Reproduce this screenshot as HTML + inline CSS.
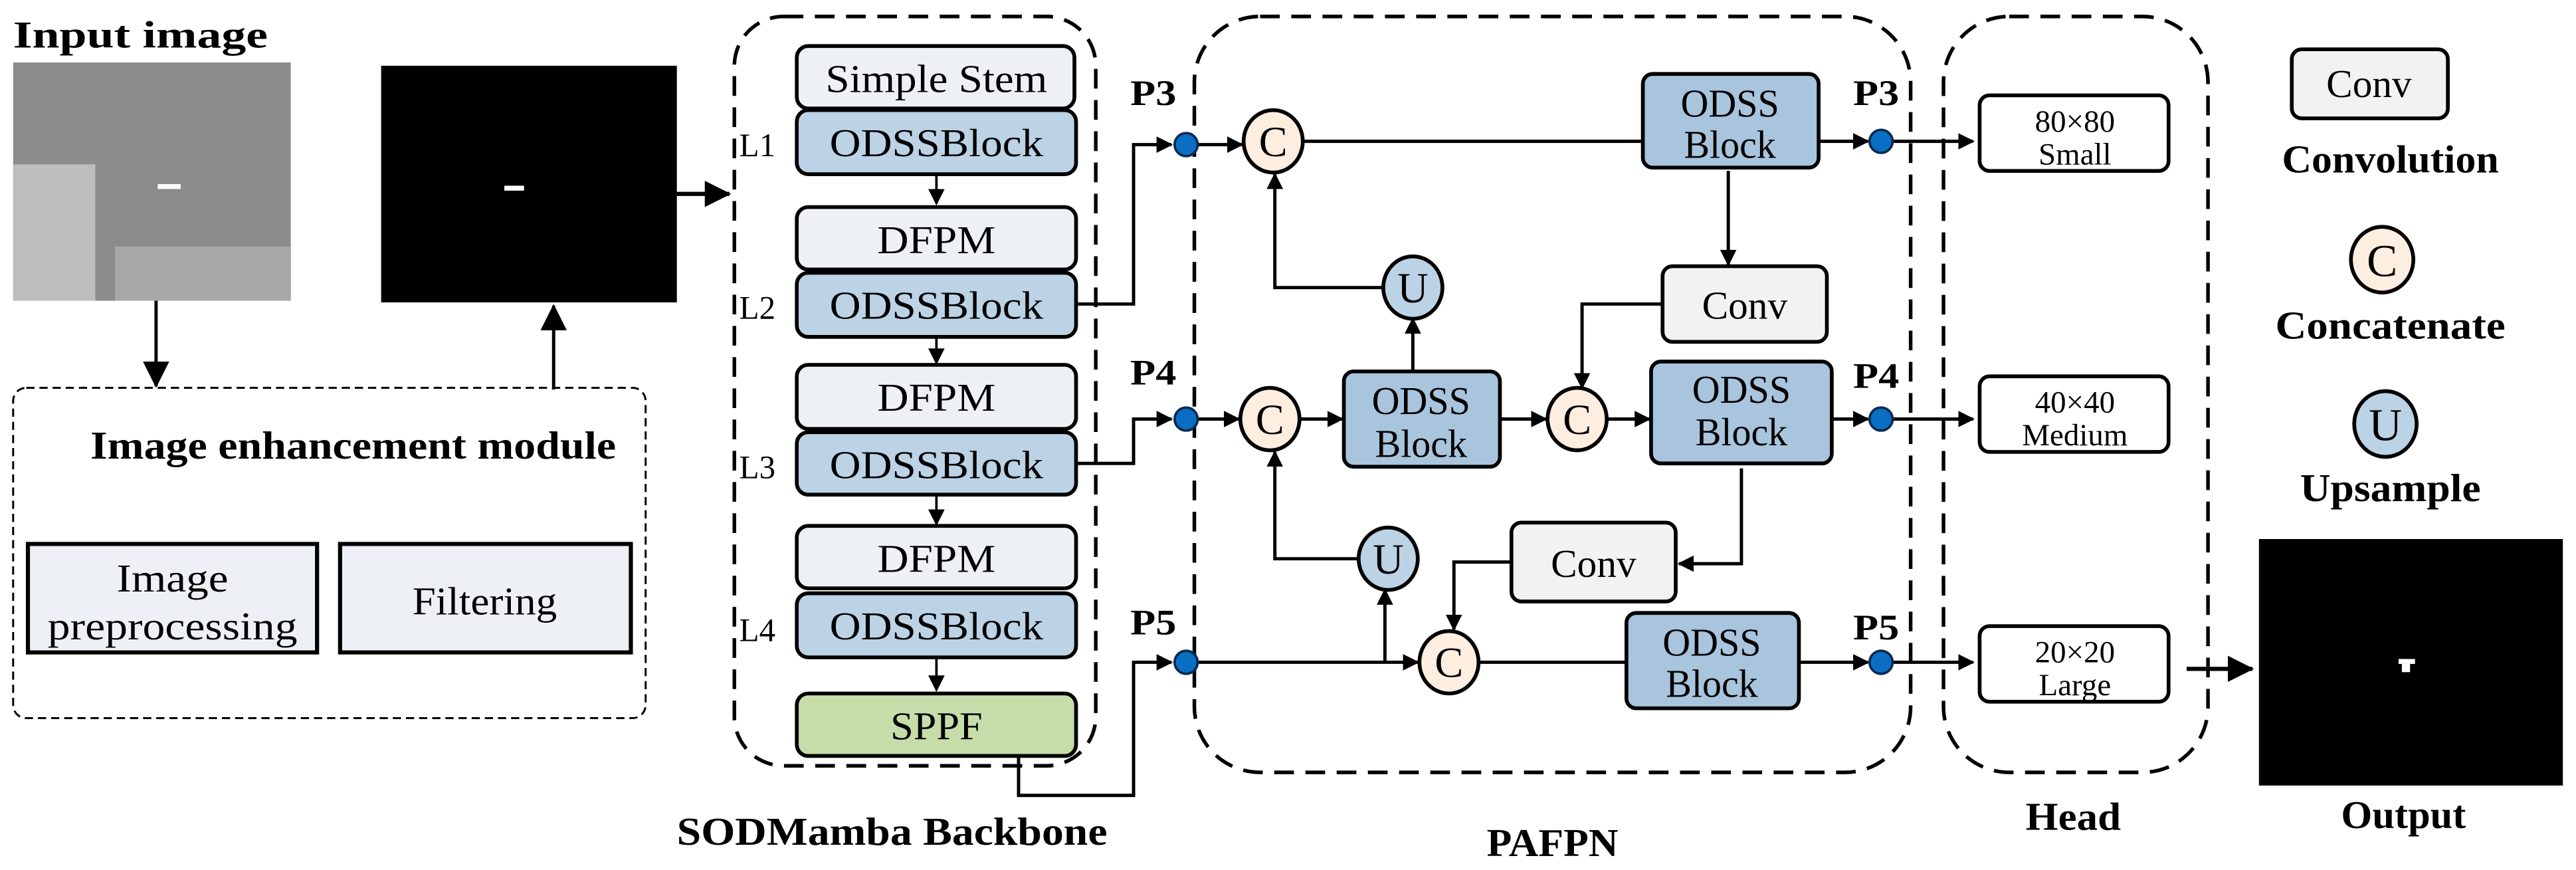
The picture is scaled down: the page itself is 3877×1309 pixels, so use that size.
<!DOCTYPE html>
<html><head><meta charset="utf-8"><style>
html,body{margin:0;padding:0;background:#fff}
svg{display:block}
text{font-family:"Liberation Serif",serif}
</style></head><body>
<svg width="3877" height="1309" viewBox="0 0 1568 529.4" xmlns="http://www.w3.org/2000/svg">
<defs>
<marker id="a" markerWidth="10" markerHeight="10" refX="9" refY="5" orient="auto" markerUnits="userSpaceOnUse"><path d="M0,0 L10,5 L0,10 z" fill="#000"/></marker>
<marker id="A" markerWidth="16" markerHeight="16" refX="15" refY="8" orient="auto" markerUnits="userSpaceOnUse"><path d="M0,0 L16,8 L0,16 z" fill="#000"/></marker>
</defs>
<g fill="none" stroke="#000">
<rect x="8" y="236" width="385" height="201" rx="8" stroke-width="1.2" stroke-dasharray="5,3"/>
<rect x="447" y="10" width="220" height="456" rx="30" stroke-width="2.2" stroke-dasharray="12,7"/>
<rect x="727" y="10" width="436" height="460" rx="40" stroke-width="2.2" stroke-dasharray="12,7"/>
<rect x="1183" y="10" width="161" height="460" rx="40" stroke-width="2.2" stroke-dasharray="12,7"/>
</g>
<text x="8" y="29" font-weight="bold" font-size="23" textLength="155" lengthAdjust="spacingAndGlyphs">Input image</text>
<rect x="8" y="38" width="169" height="145" fill="#8c8c8c"/>
<rect x="8" y="100" width="50" height="83" fill="#bdbdbd"/>
<rect x="70" y="150" width="107" height="33" fill="#a8a8a8"/>
<rect x="232" y="40" width="180" height="144" fill="#000"/>
<rect x="96" y="112" width="14" height="3" fill="#fff"/>
<rect x="307" y="113" width="12" height="3" fill="#fff"/>
<line x1="95" y1="183" x2="95" y2="235" stroke="#000" stroke-width="2" marker-end="url(#A)"/>
<line x1="337" y1="237" x2="337" y2="186" stroke="#000" stroke-width="2" marker-end="url(#A)"/>
<line x1="412" y1="118" x2="444" y2="118" stroke="#000" stroke-width="2.5" marker-end="url(#A)"/>
<text x="215" y="279" text-anchor="middle" font-weight="bold" font-size="24" textLength="320" lengthAdjust="spacingAndGlyphs">Image enhancement module</text>
<rect x="17" y="331" width="176" height="66" fill="#edf1f6" stroke="#000" stroke-width="2.5"/>
<rect x="207" y="331" width="177" height="66" fill="#edf1f6" stroke="#000" stroke-width="2.5"/>
<text x="105" y="360" text-anchor="middle" font-size="24" textLength="68" lengthAdjust="spacingAndGlyphs">Image</text>
<text x="105" y="389" text-anchor="middle" font-size="24" textLength="152" lengthAdjust="spacingAndGlyphs">preprocessing</text>
<text x="295" y="374" text-anchor="middle" font-size="24" textLength="88" lengthAdjust="spacingAndGlyphs">Filtering</text>

<g stroke="#000" stroke-width="2.3">
<rect x="485" y="28" width="169" height="38" rx="7" fill="#edf1f6"/>
<rect x="485" y="67" width="170" height="39" rx="7" fill="#bcd2e5"/>
<rect x="485" y="126" width="170" height="38" rx="7" fill="#edf1f6"/>
<rect x="485" y="166" width="170" height="39" rx="7" fill="#bcd2e5"/>
<rect x="485" y="222" width="170" height="39" rx="7" fill="#edf1f6"/>
<rect x="485" y="263" width="170" height="38" rx="7" fill="#bcd2e5"/>
<rect x="485" y="320" width="170" height="38" rx="7" fill="#edf1f6"/>
<rect x="485" y="361" width="170" height="39" rx="7" fill="#bcd2e5"/>
<rect x="485" y="422" width="170" height="38" rx="7" fill="#c6ddaa"/>
</g>
<g stroke="#000" stroke-width="1.5">
<line x1="570" y1="106" x2="570" y2="124" marker-end="url(#a)"/>
<line x1="570" y1="205" x2="570" y2="221" marker-end="url(#a)"/>
<line x1="570" y1="301" x2="570" y2="319" marker-end="url(#a)"/>
<line x1="570" y1="400" x2="570" y2="420" marker-end="url(#a)"/>
</g>
<g font-size="24" text-anchor="middle">
<text x="570" y="56" textLength="135" lengthAdjust="spacingAndGlyphs">Simple Stem</text>
<text x="570" y="95" textLength="130" lengthAdjust="spacingAndGlyphs">ODSSBlock</text>
<text x="570" y="154" textLength="72" lengthAdjust="spacingAndGlyphs">DFPM</text>
<text x="570" y="194" textLength="130" lengthAdjust="spacingAndGlyphs">ODSSBlock</text>
<text x="570" y="250" textLength="72" lengthAdjust="spacingAndGlyphs">DFPM</text>
<text x="570" y="291" textLength="130" lengthAdjust="spacingAndGlyphs">ODSSBlock</text>
<text x="570" y="348" textLength="72" lengthAdjust="spacingAndGlyphs">DFPM</text>
<text x="570" y="389" textLength="130" lengthAdjust="spacingAndGlyphs">ODSSBlock</text>
<text x="570" y="450" textLength="56" lengthAdjust="spacingAndGlyphs">SPPF</text>
</g>
<g font-size="20">
<text x="450" y="95" textLength="22" lengthAdjust="spacingAndGlyphs">L1</text><text x="450" y="194" textLength="22" lengthAdjust="spacingAndGlyphs">L2</text><text x="450" y="291" textLength="22" lengthAdjust="spacingAndGlyphs">L3</text><text x="450" y="390" textLength="22" lengthAdjust="spacingAndGlyphs">L4</text>
</g>

<g fill="none" stroke="#000" stroke-width="2">
<polyline points="655,185 690,185 690,88 713,88" marker-end="url(#a)"/>
<polyline points="655,282 690,282 690,255 713,255" marker-end="url(#a)"/>
<polyline points="620,460 620,484 690,484 690,403 713,403" marker-end="url(#a)"/>
</g>
<g font-weight="bold" font-size="22">
<text x="688" y="64" textLength="28" lengthAdjust="spacingAndGlyphs">P3</text>
<text x="688" y="234" textLength="28" lengthAdjust="spacingAndGlyphs">P4</text>
<text x="688" y="386" textLength="28" lengthAdjust="spacingAndGlyphs">P5</text>
<text x="1128" y="64" textLength="28" lengthAdjust="spacingAndGlyphs">P3</text>
<text x="1128" y="236" textLength="28" lengthAdjust="spacingAndGlyphs">P4</text>
<text x="1128" y="389" textLength="28" lengthAdjust="spacingAndGlyphs">P5</text>
</g>

<g fill="none" stroke="#000" stroke-width="2">
<line x1="729" y1="88" x2="756" y2="88" marker-end="url(#a)"/>
<line x1="793" y1="86" x2="1000" y2="86"/>
<line x1="1107" y1="86" x2="1137" y2="86" marker-end="url(#a)"/>
<line x1="1152" y1="86" x2="1201" y2="86" marker-end="url(#a)"/>
<line x1="1052" y1="104" x2="1052" y2="161" marker-end="url(#a)"/>
<polyline points="842,175 776,175 776,106" marker-end="url(#a)"/>
<line x1="860" y1="225" x2="860" y2="194" marker-end="url(#a)"/>
<polyline points="1012,185 963,185 963,236" marker-end="url(#a)"/>
<line x1="729" y1="255" x2="754" y2="255" marker-end="url(#a)"/>
<line x1="791" y1="255" x2="817" y2="255" marker-end="url(#a)"/>
<line x1="913" y1="255" x2="941" y2="255" marker-end="url(#a)"/>
<line x1="978" y1="255" x2="1004" y2="255" marker-end="url(#a)"/>
<line x1="1115" y1="255" x2="1137" y2="255" marker-end="url(#a)"/>
<line x1="1152" y1="255" x2="1201" y2="255" marker-end="url(#a)"/>
<polyline points="1060,285 1060,343 1022,343" marker-end="url(#a)"/>
<polyline points="827,340 776,340 776,275" marker-end="url(#a)"/>
<polyline points="920,342 885,342 885,383" marker-end="url(#a)"/>
<line x1="729" y1="403" x2="863" y2="403" marker-end="url(#a)"/>
<line x1="843" y1="403" x2="843" y2="359" marker-end="url(#a)"/>
<line x1="900" y1="403" x2="990" y2="403"/>
<line x1="1095" y1="403" x2="1137" y2="403" marker-end="url(#a)"/>
<line x1="1152" y1="403" x2="1201" y2="403" marker-end="url(#a)"/>
<line x1="1331" y1="407" x2="1371" y2="407" marker-end="url(#A)" stroke-width="2.5"/>
</g>

<g fill="#0a6fc2" stroke="#0b2a50" stroke-width="1.5">
<circle cx="722" cy="88" r="7"/><circle cx="722" cy="255" r="7"/><circle cx="722" cy="403" r="7"/>
<circle cx="1145" cy="86" r="7"/><circle cx="1145" cy="255" r="7"/><circle cx="1145" cy="403" r="7"/>
</g>

<g stroke="#000" stroke-width="2.3">
<ellipse cx="775" cy="86" rx="18" ry="19" fill="#fdeee0"/>
<ellipse cx="773" cy="255" rx="18" ry="19" fill="#fdeee0"/>
<ellipse cx="960" cy="255" rx="18" ry="19" fill="#fdeee0"/>
<ellipse cx="882" cy="403" rx="18" ry="19" fill="#fdeee0"/>
<ellipse cx="860" cy="175" rx="18" ry="19" fill="#bcd2e5"/>
<ellipse cx="845" cy="340" rx="18" ry="19" fill="#bcd2e5"/>
<ellipse cx="1450" cy="158" rx="19" ry="20" fill="#fdeee0"/>
<ellipse cx="1452" cy="258" rx="19" ry="20" fill="#bcd2e5"/>
</g>
<g font-size="26" text-anchor="middle">
<text x="775" y="95">C</text><text x="773" y="264">C</text><text x="960" y="264">C</text><text x="882" y="412">C</text>
<text x="860" y="184">U</text><text x="845" y="349">U</text>
<text x="1450" y="168" font-size="28">C</text><text x="1452" y="268" font-size="28">U</text>
</g>

<g stroke="#000" stroke-width="2.3" fill="#a9c4dd">
<rect x="1000" y="45" width="107" height="57" rx="6"/>
<rect x="818" y="226" width="95" height="58" rx="6"/>
<rect x="1005" y="220" width="110" height="62" rx="6"/>
<rect x="990" y="373" width="105" height="58" rx="6"/>
</g>
<g font-size="24" text-anchor="middle">
<text x="1053" y="71" textLength="60" lengthAdjust="spacingAndGlyphs">ODSS</text><text x="1053" y="96" textLength="56" lengthAdjust="spacingAndGlyphs">Block</text>
<text x="865" y="252" textLength="60" lengthAdjust="spacingAndGlyphs">ODSS</text><text x="865" y="278" textLength="56" lengthAdjust="spacingAndGlyphs">Block</text>
<text x="1060" y="245" textLength="60" lengthAdjust="spacingAndGlyphs">ODSS</text><text x="1060" y="271" textLength="56" lengthAdjust="spacingAndGlyphs">Block</text>
<text x="1042" y="399" textLength="60" lengthAdjust="spacingAndGlyphs">ODSS</text><text x="1042" y="424" textLength="56" lengthAdjust="spacingAndGlyphs">Block</text>
</g>
<g stroke="#000" stroke-width="2.3" fill="#f2f2f2">
<rect x="1012" y="162" width="100" height="46" rx="6"/>
<rect x="920" y="318" width="100" height="48" rx="6"/>
<rect x="1395" y="30" width="95" height="42" rx="6"/>
</g>
<g font-size="24" text-anchor="middle">
<text x="1062" y="194" textLength="52" lengthAdjust="spacingAndGlyphs">Conv</text><text x="970" y="351" textLength="52" lengthAdjust="spacingAndGlyphs">Conv</text><text x="1442" y="59" textLength="52" lengthAdjust="spacingAndGlyphs">Conv</text>
</g>

<g stroke="#000" stroke-width="2.3" fill="#fff">
<rect x="1205" y="58" width="115" height="46" rx="6"/>
<rect x="1205" y="229" width="115" height="46" rx="6"/>
<rect x="1205" y="381" width="115" height="46" rx="6"/>
</g>
<g font-size="19" text-anchor="middle">
<text x="1263" y="80">80×80</text><text x="1263" y="100">Small</text>
<text x="1263" y="251">40×40</text><text x="1263" y="271">Medium</text>
<text x="1263" y="403">20×20</text><text x="1263" y="423">Large</text>
</g>

<rect x="1375" y="328" width="185" height="150" fill="#000"/>
<rect x="1460" y="401" width="10" height="3" fill="#fff"/>
<rect x="1462" y="404" width="5" height="5" fill="#fff"/>

<g font-weight="bold" font-size="24" text-anchor="middle">
<text x="1455" y="105" textLength="132" lengthAdjust="spacingAndGlyphs">Convolution</text>
<text x="1455" y="206" textLength="140" lengthAdjust="spacingAndGlyphs">Concatenate</text>
<text x="1455" y="305" textLength="110" lengthAdjust="spacingAndGlyphs">Upsample</text>
<text x="1463" y="504" textLength="76" lengthAdjust="spacingAndGlyphs">Output</text>
<text x="1262" y="505" textLength="58" lengthAdjust="spacingAndGlyphs">Head</text>
<text x="945" y="521" textLength="80" lengthAdjust="spacingAndGlyphs">PAFPN</text>
<text x="543" y="514" textLength="262" lengthAdjust="spacingAndGlyphs">SODMamba Backbone</text>
</g>
</svg>
</body></html>
